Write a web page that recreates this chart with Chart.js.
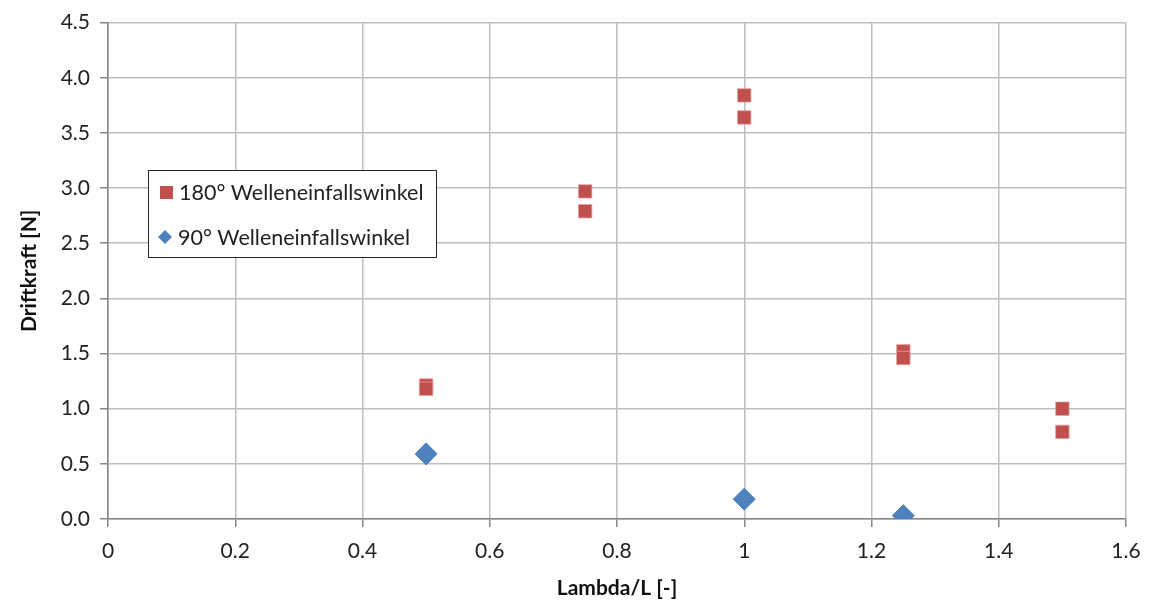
<!DOCTYPE html>
<html>
<head>
<meta charset="utf-8">
<script src="https://cdn.jsdelivr.net/npm/chart.js@4"></script>
<style>
  html, body { margin: 0; padding: 0; background: #fff; }
  #wrap { width: 1149px; height: 601px; }
</style>
</head>
<body>
<div id="wrap"><canvas id="driftChart" width="1149" height="601"></canvas></div>
<script>
// Lambda/L values and measured drift forces
const lambda180 = [0.5, 0.5, 0.75, 0.75, 1.0, 1.0, 1.25, 1.25, 1.5, 1.5];
const force180 = [1.21, 1.18, 2.97, 2.79, 3.84, 3.64, 1.52, 1.46, 1.0, 0.79];
const lambda90 = [0.5, 1.0, 1.25];
const force90 = [0.59, 0.18, 0.03];
const seriesNames = ["180° Welleneinfallswinkel", "90° Welleneinfallswinkel"];

const red = "#C0504D";
const blue = "#4F81BD";
const fontName = "Lato, 'Open Sans', sans-serif";

const toPoints = (xs, ys) => xs.map((x, i) => ({ x: x, y: ys[i] }));

// legend box drawn inside the plot, like the original
const innerLegend = {
  id: "innerLegend",
  afterDraw(chart) {
    const c = chart.ctx;
    const x0 = 148, y0 = 170, w = 288, h = 87;
    c.save();
    c.fillStyle = "#fff";
    c.fillRect(x0, y0, w, h);
    c.strokeStyle = "#262626";
    c.lineWidth = 1;
    c.strokeRect(x0 + 0.5, y0 + 0.5, w, h);
    c.font = "21.5px " + fontName;
    c.textBaseline = "middle";
    const rows = [22, 67];
    chart.data.datasets.forEach((ds, i) => {
      const cy = y0 + rows[i];
      c.fillStyle = ds.backgroundColor;
      c.beginPath();
      if (ds.pointStyle === "rect") {
        c.rect(x0 + 12, cy - 6, 13, 13);
      } else {
        c.moveTo(x0 + 17, cy - 7);
        c.lineTo(x0 + 24, cy);
        c.lineTo(x0 + 17, cy + 7);
        c.lineTo(x0 + 10, cy);
        c.closePath();
      }
      c.fill();
      c.fillStyle = "#222";
      c.fillText(ds.label, x0 + (i === 0 ? 31 : 30), cy + 1);
    });
    c.restore();
  }
};

const chart = new Chart(document.getElementById("driftChart"), {
  type: "scatter",
  data: {
    datasets: [
      {
        label: seriesNames[0],
        data: toPoints(lambda180, force180),
        backgroundColor: red,
        borderColor: "rgba(230,160,160,0.8)",
        borderWidth: 1,
        pointStyle: "rect",
        pointRadius: 9.5,
        pointHoverRadius: 9.5
      },
      {
        label: seriesNames[1],
        data: toPoints(lambda90, force90),
        backgroundColor: blue,
        borderColor: blue,
        borderWidth: 1,
        pointStyle: "rectRot",
        pointRadius: 11,
        pointHoverRadius: 11
      }
    ]
  },
  options: {
    responsive: false,
    animation: false,
    layout: { padding: { top: 22, right: 23, left: 0, bottom: 0 } },
    plugins: {
      legend: { display: false },
      tooltip: { enabled: false }
    },
    scales: {
      x: {
        type: "linear",
        min: 0,
        max: 1.6,
        ticks: {
          stepSize: 0.2,
          color: "#222",
          padding: 12,
          font: { family: fontName, size: 21 },
          callback: v => String(Number(v.toFixed(1)))
        },
        grid: { color: "#BEBEBE", lineWidth: 1.5, tickLength: 8, tickColor: "#868686" },
        border: { color: "#868686", width: 1.5 },
        title: {
          display: true,
          text: "Lambda/L [-]",
          color: "#111",
          font: { family: fontName, size: 21, weight: "bold" },
          padding: { top: 0, bottom: 0 }
        },
        afterFit(scale) {
          scale.height = 82;
          scale.paddingRight = 0;
          scale.paddingLeft = 0;
        }
      },
      y: {
        min: 0,
        max: 4.5,
        ticks: {
          stepSize: 0.5,
          color: "#222",
          padding: 10,
          font: { family: fontName, size: 21 },
          callback: v => v.toFixed(1)
        },
        grid: { color: "#BEBEBE", lineWidth: 1.5, tickLength: 8, tickColor: "#868686" },
        border: { color: "#868686", width: 1.5 },
        title: {
          display: true,
          text: "Driftkraft [N]",
          color: "#111",
          font: { family: fontName, size: 21, weight: "bold" },
          padding: { top: 17, bottom: 0 }
        },
        afterFit(scale) { scale.width = 108; }
      }
    }
  },
  plugins: [innerLegend]
});
</script>
</body>
</html>
